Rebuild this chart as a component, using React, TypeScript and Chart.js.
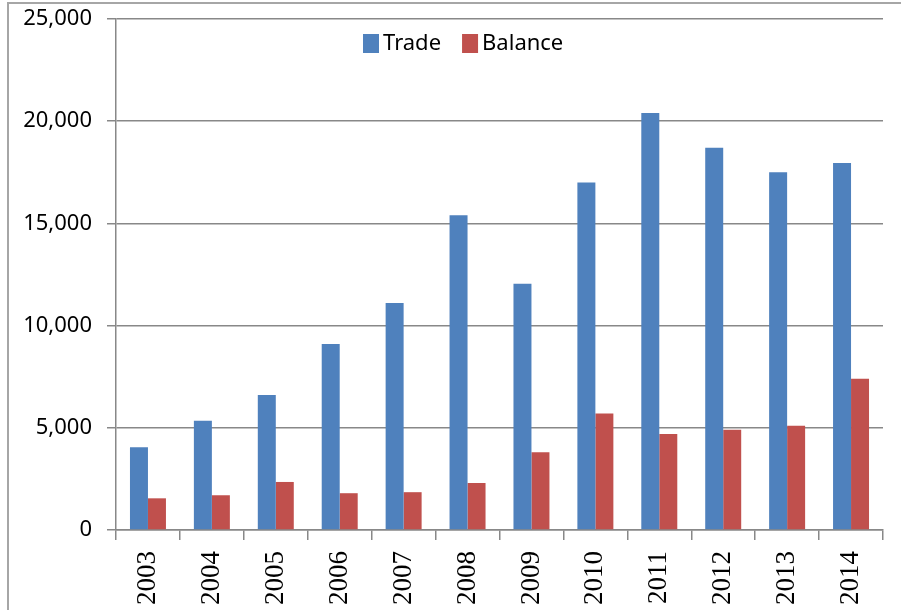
import React, { useEffect, useRef } from "react";
import { Chart, registerables } from "chart.js";

Chart.register(...registerables);

const years = ["2003", "2004", "2005", "2006", "2007", "2008", "2009", "2010", "2011", "2012", "2013", "2014"];
const trade = [4050, 5350, 6600, 9100, 11100, 15400, 12050, 17000, 20400, 18700, 17500, 17950];
const balance = [1550, 1700, 2350, 1800, 1850, 2300, 3800, 5700, 4700, 4900, 5100, 7400];
const yMin = 0;
const yMax = 25000;
const yStep = 5000;

const BLUE = "#4F81BD";
const RED = "#C0504D";

const legendPlugin = {
  id: "excelLegend",
  afterDraw(chart: any) {
    const ctx = chart.ctx;
    ctx.save();
    let x = 363;
    const yMid = 44;
    ctx.font = "22px 'Noto Sans'";
    ctx.textBaseline = "middle";
    chart.data.datasets.forEach((ds: any) => {
      ctx.fillStyle = ds.backgroundColor;
      ctx.fillRect(x, 34, 16, 19);
      x += 20;
      ctx.fillStyle = "#000";
      ctx.fillText(ds.label, x, yMid);
      x += ctx.measureText(ds.label).width + 21;
    });
    ctx.restore();
  },
};

export default function App() {
  const ref = useRef<HTMLCanvasElement | null>(null);

  useEffect(() => {
    if (!ref.current) return;
    const chart = new Chart(ref.current, {
      type: "bar",
      data: {
        labels: years,
        datasets: [
          { label: "Trade", data: trade, backgroundColor: BLUE, borderWidth: 0, barPercentage: 1, categoryPercentage: 0.563 },
          { label: "Balance", data: balance, backgroundColor: RED, borderWidth: 0, barPercentage: 1, categoryPercentage: 0.563 },
        ],
      },
      options: {
        animation: false,
        responsive: true,
        maintainAspectRatio: false,
        layout: { padding: { top: 19, right: 18, bottom: 0, left: 0 } },
        plugins: {
          legend: { display: false },
          tooltip: { enabled: false },
        },
        scales: {
          x: {
            grid: {
              display: true,
              drawOnChartArea: false,
              drawTicks: true,
              tickLength: 10,
              color: "#888",
              lineWidth: 1.5,
              offset: true,
            },
            border: { display: true, color: "#888", width: 1.5 },
            ticks: {
              font: { family: "'Liberation Serif'", size: 27 },
              color: "#000",
              minRotation: 90,
              maxRotation: 90,
              padding: 11,
            },
            afterFit: (s: any) => {
              s.height = 80;
              s.paddingLeft = 0;
              s.paddingRight = 0;
            },
          },
          y: {
            min: yMin,
            max: yMax,
            ticks: {
              stepSize: yStep,
              font: { family: "'Noto Sans'", size: 22 },
              color: "#000",
              padding: 15,
              callback: (v: any) => Number(v).toLocaleString("en-US"),
            },
            grid: { color: "#888", lineWidth: 1.5, tickLength: 9 },
            border: { display: true, color: "#888", width: 1.5 },
            afterFit: (s: any) => {
              s.width = 116;
              s.paddingTop = 0;
              s.paddingBottom = 0;
            },
          },
        },
      },
      plugins: [legendPlugin],
    });
    return () => chart.destroy();
  }, []);

  return (
    <div style={{ position: "fixed", left: 0, top: 0, width: 901, height: 610, overflow: "hidden", background: "#fff" }}>
      <div
        style={{
          position: "absolute",
          left: 7,
          top: 2,
          width: 920,
          height: 640,
          borderLeft: "2px solid #a6a6a6",
          borderTop: "2px solid #a6a6a6",
          boxSizing: "border-box",
        }}
      />
      <canvas ref={ref} style={{ position: "absolute", left: 0, top: 0 }} />
    </div>
  );
}
